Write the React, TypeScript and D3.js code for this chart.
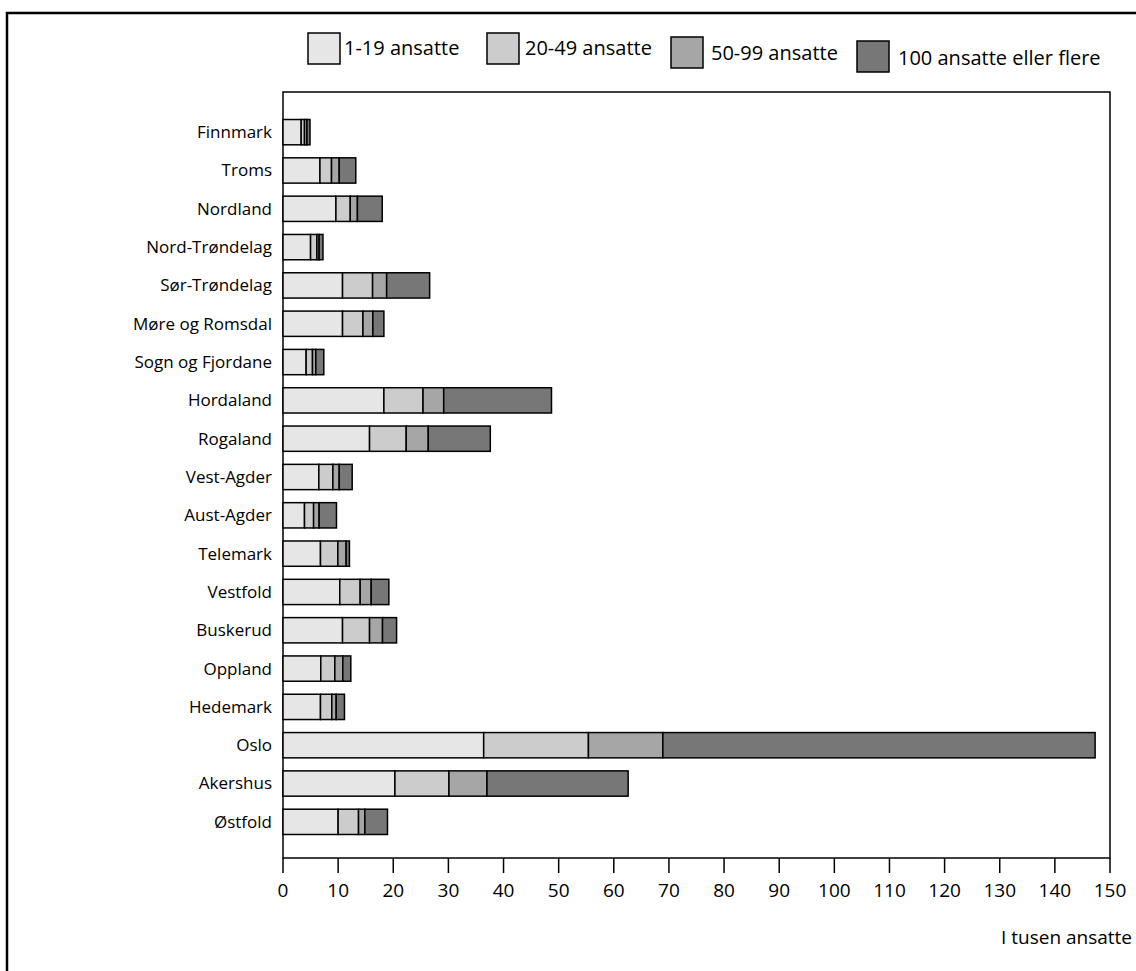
import React from "react";
import * as d3 from "d3";

const categories = [
  "Finnmark", "Troms", "Nordland", "Nord-Trøndelag", "Sør-Trøndelag", "Møre og Romsdal",
  "Sogn og Fjordane", "Hordaland", "Rogaland", "Vest-Agder", "Aust-Agder", "Telemark",
  "Vestfold", "Buskerud", "Oppland", "Hedemark", "Oslo", "Akershus", "Østfold",
];
const small = [3.3, 6.7, 9.6, 5.0, 10.8, 10.8, 4.2, 18.3, 15.7, 6.5, 3.9, 6.8, 10.3, 10.8, 6.85, 6.8, 36.4, 20.3, 10.0];
const medium = [0.6, 2.1, 2.6, 1.15, 5.45, 3.7, 1.15, 7.1, 6.65, 2.55, 1.65, 3.15, 3.7, 4.9, 2.55, 2.05, 19.0, 9.8, 3.7];
const large = [0.45, 1.4, 1.3, 0.4, 2.55, 1.8, 0.6, 3.75, 4.0, 1.15, 1.0, 1.5, 2.0, 2.35, 1.45, 0.8, 13.5, 6.9, 1.15];
const largest = [0.55, 3.0, 4.5, 0.7, 7.8, 2.0, 1.45, 19.55, 11.25, 2.35, 3.15, 0.6, 3.2, 2.55, 1.45, 1.5, 78.4, 25.6, 4.1];
const seriesNames = ["1-19 ansatte", "20-49 ansatte", "50-99 ansatte", "100 ansatte eller flere"];
const seriesColors = ["#e6e6e6", "#cccccc", "#a6a6a6", "#777777"];
const xTicks = d3.range(0, 151, 10);
const axisTitle = "I tusen ansatte";

const FONT = "'Open Sans', 'Noto Sans', sans-serif";

export default function App() {
  const W = 1136, H = 971;
  const plot = { left: 283, right: 1110, top: 92, bottom: 858 };
  const x = d3.scaleLinear().domain([0, 150]).range([plot.left, plot.right]);
  const y = d3.scaleBand<string>().domain(categories).range([113, 841]).paddingInner(0.34).paddingOuter(0.17);

  const rows = categories.map((c, i) => ({ c, vals: [small[i], medium[i], large[i], largest[i]] }));
  const legend = [
    { bx: 308, by: 33, tx: 344, ty: 55 },
    { bx: 487, by: 33, tx: 525, ty: 55 },
    { bx: 671, by: 37, tx: 711, ty: 60 },
    { bx: 857, by: 41, tx: 898, ty: 65 },
  ];

  return (
    <svg width={W} height={H} style={{ position: "absolute", left: 0, top: 0, background: "#fff" }} fontFamily={FONT}>
      <rect x={0} y={0} width={W} height={H} fill="#fff" />
      {/* outer frame */}
      <path d={`M7,${H + 5} V13 H${W + 5}`} fill="none" stroke="#000" strokeWidth={2.5} />
      {/* legend */}
      {legend.map((l, i) => (
        <g key={i}>
          <rect x={l.bx} y={l.by} width={32} height={31} fill={seriesColors[i]} stroke="#000" strokeWidth={1.5} />
          <text x={l.tx} y={l.ty} fontSize={20} fill="#000">{seriesNames[i]}</text>
        </g>
      ))}
      {/* plot frame */}
      <rect x={plot.left} y={plot.top} width={plot.right - plot.left} height={plot.bottom - plot.top} fill="none" stroke="#000" strokeWidth={1.5} />
      {/* bars */}
      {rows.map((r) => {
        let acc = 0;
        const y0 = y(r.c)!;
        return (
          <g key={r.c}>
            {r.vals.map((v, k) => {
              const x0 = x(acc);
              acc += v;
              const x1 = x(acc);
              return <rect key={k} x={x0} y={y0} width={x1 - x0} height={y.bandwidth()} fill={seriesColors[k]} stroke="#000" strokeWidth={1.5} />;
            })}
            <text x={272} y={y0 + y.bandwidth() / 2} dy="0.35em" textAnchor="end" fontSize={17} fill="#000">{r.c}</text>
          </g>
        );
      })}
      {/* ticks */}
      {xTicks.map((t) => (
        <g key={t}>
          <line x1={x(t)} x2={x(t)} y1={plot.bottom} y2={plot.bottom + 15} stroke="#000" strokeWidth={1.5} />
          <text x={x(t)} y={897} textAnchor="middle" fontSize={19} fill="#000">{t}</text>
        </g>
      ))}
      <text x={1132} y={944} textAnchor="end" fontSize={19} fill="#000">{axisTitle}</text>
    </svg>
  );
}
